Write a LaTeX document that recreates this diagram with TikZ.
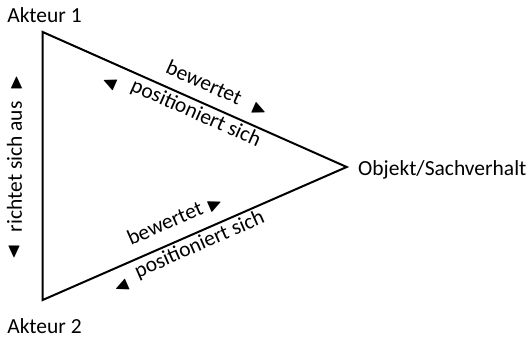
\documentclass[tikz,border=0pt]{standalone}
\usepackage{amssymb}
\usepackage{fontspec}
\setmainfont{Carlito}
\usetikzlibrary{positioning}

\begin{document}
\begin{tikzpicture}[x=1pt,y=-1pt,
    edge/.style={line width=2pt},
    lbl/.style={font=\fontsize{21.5}{25}\selectfont,inner sep=0pt},
    arrowtip/.style={font=\fontsize{20}{20}\selectfont,inner sep=0pt},
    ]
  \useasboundingbox (0,0) rectangle (530,337);

  % corners of the triangle
  \coordinate (a1) at (42.7,32);
  \coordinate (a2) at (42.7,300);
  \coordinate (obj) at (346.7,167);

  \node[lbl,anchor=base] (akteur1) at (44.5,23) {Akteur 1};
  \node[lbl,anchor=base] (akteur2) at (44.5,333) {Akteur 2};
  \node[lbl,anchor=base west] (objekt) at (358,175) {Objekt/Sachverhalt};

  \draw[edge] (a1) -- (obj) -- (a2) -- cycle;

  % upper edge
  \path (a1) -- (obj)
    node[lbl,sloped,pos=0.505,above=12pt] (bew1) {bewertet}
    node[arrowtip,sloped,pos=0.69,above=11pt] (tip1) {$\blacktriangleright$}
    node[lbl,sloped,pos=0.52,below=3pt] (pos1) {positioniert sich}
    node[arrowtip,sloped,pos=0.245,below=13pt] (tip2) {$\blacktriangleleft$};

  % lower edge
  \path (a2) -- (obj)
    node[lbl,sloped,pos=0.43,above=14pt] (bew2) {bewertet}
    node[arrowtip,sloped,pos=0.59,above=12pt] (tip3) {$\blacktriangleright$}
    node[lbl,sloped,pos=0.5,below=3pt] (pos2) {positioniert sich}
    node[arrowtip,sloped,pos=0.235,below=13pt] (tip4) {$\blacktriangleleft$};

  % left side
  \node[lbl,rotate=90] (richtet) at (14.5,166.7) {richtet sich aus};
  \node[arrowtip] (up) at (16.5,83) {$\blacktriangle$};
  \node[arrowtip] (down) at (14,251.7) {$\blacktriangledown$};
\end{tikzpicture}
\end{document}
